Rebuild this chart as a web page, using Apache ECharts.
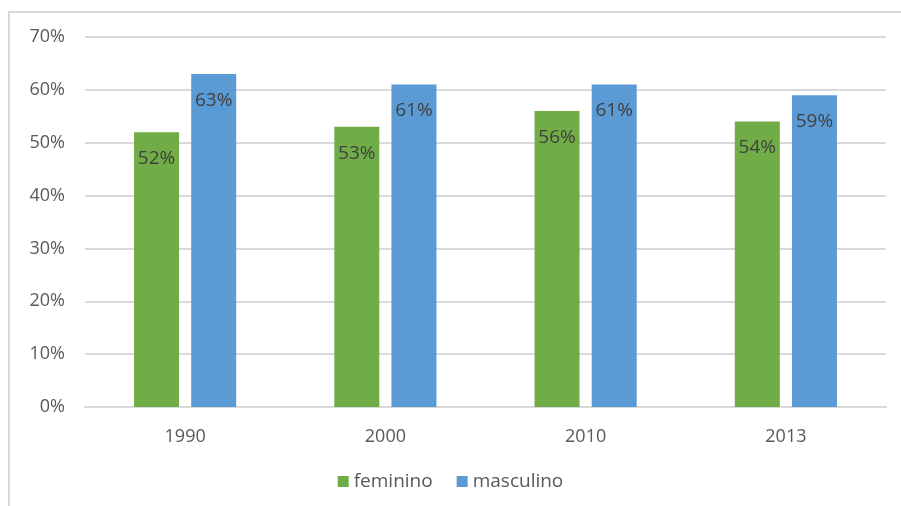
<!DOCTYPE html>
<html>
<head>
<meta charset="utf-8">
<script src="https://cdn.jsdelivr.net/npm/echarts@6/dist/echarts.min.js"></script>
<style>
  html, body { margin: 0; padding: 0; background: #fff; }
  #chart { width: 901px; height: 506px; }
</style>
</head>
<body>
<div id="chart"></div>
<script>
const years = ['1990', '2000', '2010', '2013'];
const feminino = [52, 53, 56, 54];
const masculino = [63, 61, 61, 59];
const seriesNames = ['feminino', 'masculino'];

const font = '"Open Sans", "Liberation Sans", sans-serif';
const label = {
  show: true,
  position: 'insideTop',
  distance: 17,
  formatter: p => p.value + '%',
  color: '#404040',
  fontSize: 19,
  fontFamily: font
};

const chart = echarts.init(document.getElementById('chart'));
chart.setOption({
  animation: false,
  graphic: [{
    type: 'polyline',
    shape: { points: [[9, 506], [9, 12], [901, 12]] },
    style: { stroke: '#d9d9d9', lineWidth: 2, fill: null }
  }],
  grid: { left: 85, right: 15, top: 37, bottom: 99 },
  legend: {
    data: seriesNames,
    bottom: 10,
    left: 'center',
    itemWidth: 11,
    itemHeight: 11,
    itemGap: 24,
    icon: 'rect',
    textStyle: { color: '#595959', fontSize: 19, fontFamily: font }
  },
  xAxis: {
    type: 'category',
    data: years,
    axisLine: { lineStyle: { color: '#d9d9d9', width: 2 } },
    axisTick: { show: false },
    axisLabel: { color: '#595959', fontSize: 18, fontFamily: font, margin: 21 }
  },
  yAxis: {
    type: 'value',
    min: 0,
    max: 70,
    interval: 10,
    axisLine: { show: false },
    axisTick: { show: false },
    splitLine: { lineStyle: { color: '#d9d9d9', width: 2 } },
    axisLabel: { color: '#595959', fontSize: 18, fontFamily: font, margin: 20, formatter: '{value}%' }
  },
  series: [
    { name: seriesNames[0], type: 'bar', data: feminino, barWidth: 45, barGap: '27%',
      itemStyle: { color: '#70ad47' }, label },
    { name: seriesNames[1], type: 'bar', data: masculino, barWidth: 45,
      itemStyle: { color: '#5b9bd5' }, label }
  ]
});
</script>
</body>
</html>
